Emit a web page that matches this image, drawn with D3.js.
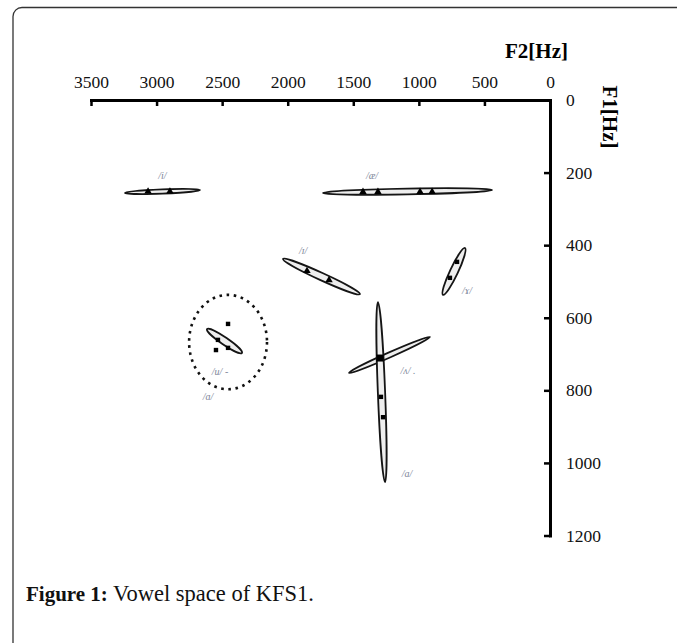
<!DOCTYPE html>
<html>
<head>
<meta charset="utf-8">
<script src="https://cdn.jsdelivr.net/npm/d3@7"></script>
<style>
  body { margin: 0; background: #fff; }
  svg { display: block; }
</style>
</head>
<body>
<svg id="chart" width="677" height="643"></svg>
<script>
// axis ticks (Hz)
const f2Ticks = [3500, 3000, 2500, 2000, 1500, 1000, 500, 0];
const f1Ticks = [0, 200, 400, 600, 800, 1000, 1200];

// vowel ellipses: major axis start / end as [F2, F1] in Hz, half width in Hz
const ellipseVowels = ["/i/", "/æ/", "/ɪ/", "/ɤ/", "/u/", "/ʌ/", "/a/"];
const ellipseStart = [[3241, 256], [1731, 256], [2036, 438], [648, 408], [2615, 631], [1533, 752], [1312, 557]];
const ellipseEnd = [[2669, 248], [442, 248], [1449, 535], [816, 537], [2349, 697], [915, 653], [1258, 1053]];
const ellipseSpread = [6, 8, 10, 11, 10, 7, 10];

// dotted distribution of /ɑ/ : centre [F2, F1] and radii in Hz
const dottedCentre = [2455, 667];
const dottedRadius = [297, 130];

// token markers [F2, F1]
const triangleTokens = [[3065, 252], [2898, 252], [1426, 253], [1312, 253], [991, 253], [899, 253], [1853, 471], [1685, 496]];
const squareTokens = [[1289, 818], [1273, 874], [2455, 617], [2547, 689], [2532, 661], [2455, 683], [709, 446], [763, 490]];
const bigSquareTokens = [[1296, 711]];

// vowel labels
const labelText = ["/i/", "/æ/", "/ɪ/", "/ɤ/", "/u/ -", "/ɑ/", "/ʌ/ .", "/a/"];
const labelPos = [[2955, 207], [1357, 207], [1883, 416], [633, 526], [2516, 747], [2608, 818], [1083, 744], [1090, 1028]];

const svg = d3.select("#chart");

// frame of the figure box
svg.append("rect")
    .attr("x", 13).attr("y", 7.5)
    .attr("width", 700).attr("height", 700)
    .attr("rx", 9)
    .attr("fill", "none")
    .attr("stroke", "#333")
    .attr("stroke-width", 1.3);

var x = d3.scaleLinear().domain([3500, 0]).range([91, 550]);
var y = d3.scaleLinear().domain([0, 1200]).range([100, 535.5]);

var xAxis = svg.append("g")
    .attr("transform", "translate(0,100)")
    .call(d3.axisTop(x).tickValues(f2Ticks).tickFormat(d3.format("d"))
        .tickSizeInner(-6).tickSizeOuter(0).tickPadding(12));

var yAxis = svg.append("g")
    .attr("transform", "translate(550,0)")
    .call(d3.axisRight(y).tickValues(f1Ticks).tickFormat(d3.format("d"))
        .tickSizeInner(-6).tickSizeOuter(0).tickPadding(16));

[xAxis, yAxis].forEach(g => {
    g.select(".domain").attr("stroke", "#000").attr("stroke-width", 3).attr("stroke-linecap", "square");
    g.selectAll(".tick line").attr("stroke", "#000").attr("stroke-width", 2.5);
    g.selectAll(".tick text")
        .attr("fill", "#111")
        .style("font-family", "'Liberation Serif', serif")
        .style("font-size", "17.5px");
});
yAxis.selectAll(".tick text").attr("text-anchor", "start");

// axis titles
svg.append("text")
    .attr("x", 568).attr("y", 58)
    .attr("text-anchor", "end")
    .style("font-family", "'Liberation Serif', serif")
    .style("font-weight", "bold")
    .style("font-size", "21px")
    .text("F2[Hz]");

svg.append("text")
    .attr("transform", "translate(603,117) rotate(90)")
    .attr("text-anchor", "middle")
    .style("font-family", "'Liberation Serif', serif")
    .style("font-weight", "bold")
    .style("font-size", "21px")
    .text("F1[Hz]");

// dotted /ɑ/ distribution
svg.append("ellipse")
    .attr("cx", x(dottedCentre[0]))
    .attr("cy", y(dottedCentre[1]))
    .attr("rx", x(0) - x(dottedRadius[0]))
    .attr("ry", y(dottedRadius[1]) - y(0))
    .attr("fill", "none")
    .attr("stroke", "#111")
    .attr("stroke-width", 2.6)
    .attr("stroke-dasharray", "2.6,4.6");

// vowel ellipses
var ellipses = ellipseVowels.map((v, i) => {
    var x1 = x(ellipseStart[i][0]), y1 = y(ellipseStart[i][1]);
    var x2 = x(ellipseEnd[i][0]), y2 = y(ellipseEnd[i][1]);
    return {
        cx: (x1 + x2) / 2,
        cy: (y1 + y2) / 2,
        rx: Math.hypot(x2 - x1, y2 - y1) / 2,
        ry: y(ellipseSpread[i]) - y(0),
        angle: Math.atan2(y2 - y1, x2 - x1) * 180 / Math.PI
    };
});

var eg = svg.append("g");
eg.selectAll("ellipse.outer")
    .data(ellipses)
    .join("ellipse")
    .attr("class", "outer")
    .attr("cx", d => d.cx)
    .attr("cy", d => d.cy)
    .attr("rx", d => d.rx)
    .attr("ry", d => d.ry)
    .attr("transform", d => `rotate(${d.angle},${d.cx},${d.cy})`)
    .attr("fill", "#eeeeee")
    .attr("stroke", "#151515")
    .attr("stroke-width", 1.8);

// markers
svg.append("g")
    .selectAll("path")
    .data(triangleTokens)
    .join("path")
    .attr("d", d3.symbol(d3.symbolTriangle, 24))
    .attr("transform", d => `translate(${x(d[0])},${y(d[1])})`)
    .attr("fill", "#000");

svg.append("g")
    .selectAll("rect")
    .data(squareTokens)
    .join("rect")
    .attr("x", d => x(d[0]) - 2.2)
    .attr("y", d => y(d[1]) - 2.2)
    .attr("width", 4.4)
    .attr("height", 4.4)
    .attr("fill", "#000");

svg.append("g")
    .selectAll("rect")
    .data(bigSquareTokens)
    .join("rect")
    .attr("x", d => x(d[0]) - 3.5)
    .attr("y", d => y(d[1]) - 3.5)
    .attr("width", 7)
    .attr("height", 7)
    .attr("fill", "#000");

// vowel labels
svg.append("g")
    .selectAll("text")
    .data(labelText)
    .join("text")
    .attr("x", (d, i) => x(labelPos[i][0]))
    .attr("y", (d, i) => y(labelPos[i][1]))
    .attr("dy", "0.35em")
    .attr("text-anchor", "middle")
    .attr("fill", "#7d8699")
    .style("font-family", "'Liberation Serif', serif")
    .style("font-style", "italic")
    .style("font-size", "10px")
    .text(d => d);

// caption
var caption = svg.append("text")
    .attr("x", 26).attr("y", 601)
    .style("font-family", "'Liberation Serif', serif")
    .attr("fill", "#111");
caption.append("tspan").style("font-weight", "bold").style("font-size", "21px").text("Figure 1:");
caption.append("tspan").style("font-size", "22.5px").text(" Vowel space of KFS1.");
</script>
</body>
</html>
